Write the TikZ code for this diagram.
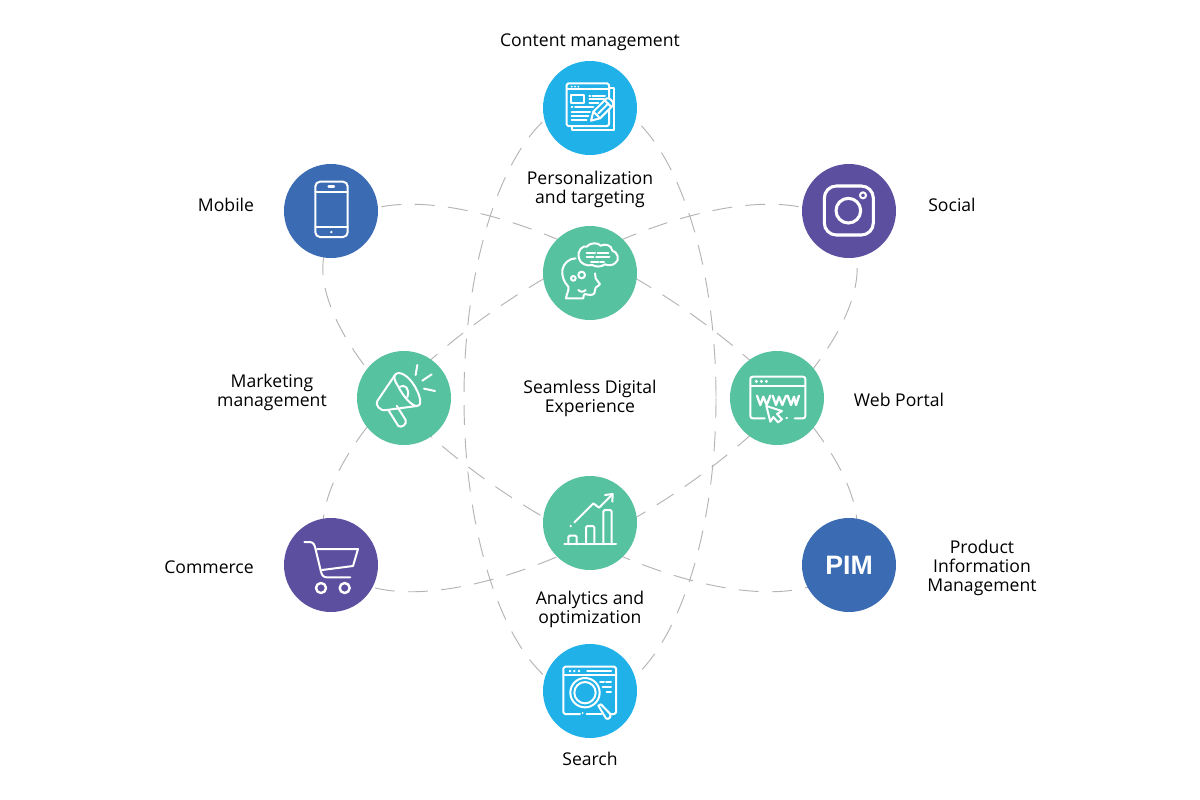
\documentclass[tikz,border=0pt]{standalone}
\usepackage{fontspec}
\setmainfont{Open Sans}
\newfontfamily\pimfont{Liberation Sans}
\definecolor{ccyan}{HTML}{1FB1E8}
\definecolor{cgreen}{HTML}{57C2A0}
\definecolor{cblue}{HTML}{3B6BB3}
\definecolor{cpurple}{HTML}{5D4FA0}
\definecolor{cdash}{HTML}{B4B4B4}
\tikzset{
  disc/.style={circle,draw=none,minimum size=70.5pt,inner sep=0pt},
  orbit/.style={draw=cdash,line width=0.7pt,dash pattern=on 15pt off 10pt},
  lab/.style={align=center,font=\fontsize{13.2pt}{14.25pt}\selectfont,text=black,inner sep=0pt},
  ic/.style={draw=white,line width=1.5pt,line cap=round,line join=round},
  icthick/.style={ic,line width=2.3pt},
  zoomed/.style={x=0.25pt,y=-0.25pt}
}
\begin{document}
\begin{tikzpicture}[x=0.75pt,y=-0.75pt]
\path[use as bounding box,fill=white] (0,0) rectangle (1200,800);
% orbits
\draw[orbit] (590,398) ellipse [x radius=126,y radius=298];
\draw[orbit,rotate around={-32:(590,398)}] (590,398) ellipse [x radius=305,y radius=126];
\draw[orbit,rotate around={32:(590,398)}] (590,398) ellipse [x radius=305,y radius=126];
% discs
\node[disc,fill=ccyan] (content) at (590,108) {};
\node[disc,fill=cgreen] (person) at (590,273) {};
\node[disc,fill=cgreen] (market) at (404,398) {};
\node[disc,fill=cgreen] (web) at (777,398) {};
\node[disc,fill=cgreen] (analytics) at (590,523) {};
\node[disc,fill=ccyan] (search) at (590,691) {};
\node[disc,fill=cblue] (mobile) at (331,211) {};
\node[disc,fill=cpurple] (social) at (849,211) {};
\node[disc,fill=cpurple] (commerce) at (331,565) {};
\node[disc,fill=cblue,text=white] (pim) at (849,565) {\pimfont\bfseries\fontsize{20pt}{20pt}\selectfont PIM};
% labels
\node[lab] (tcontent) at (590,42) {Content management};
\node[lab] (tperson) at (590,189) {Personalization\\and targeting};
\node[lab] (tmobile) at (226,205) {Mobile};
\node[lab] (tsocial) at (952,205) {Social};
\node[lab] (tmarket) at (272,392) {Marketing\\management};
\node[lab] (tcentre) at (590,398) {Seamless Digital\\Experience};
\node[lab] (tweb) at (899,400) {Web Portal};
\node[lab] (tcommerce) at (209,567) {Commerce};
\node[lab] (tpim) at (982,568) {Product\\Information\\Management};
\node[lab] (tanalytics) at (590,609) {Analytics and\\optimization};
\node[lab] (tsearch) at (590,759) {Search};
% content icon
\begin{scope}[shift={(530,50)},zoomed]
\draw[ic] (237,113)--(252,113)--(252,240)--(125,240)--(125,228);
\draw[ic,rounded corners=1.2pt] (110,100) rectangle (237,228);
\draw[ic] (110,118)--(237,118);
\fill[white] (125,110) circle (3) (135,110) circle (3) (145,110) circle (3);
\draw[ic] (124,135) rectangle (163,158);
\draw[ic] (178,137)--(181,137) (188,137)--(225,137) (178,148)--(222,148) (178,158)--(205,158);
\draw[ic] (125,172)--(127,172) (135,172)--(190,172) (125,185)--(180,185) (125,197)--(175,197) (125,210)--(170,210);
\draw[ic,fill=ccyan] (183,212)--(190,185)--(230,145) .. controls (238,142) and (252,155) .. (250,165)--(210,205)--cycle;
\draw[ic] (225,152)--(243,170) (205,190)--(235,160) (190,185)--(210,205);
\end{scope}
% head icon
\begin{scope}[shift={(530,215)},zoomed]
\draw[ic] (108,250) .. controls (110,235) and (118,225) .. (115,215) .. controls (100,200) and (95,180) .. (97,165) .. controls (100,145) and (118,130) .. (137,130);
\draw[ic] (108,250)--(160,250) .. controls (160,243) and (161,238) .. (165,237) .. controls (175,240) and (188,242) .. (193,235) .. controls (197,228) and (193,222) .. (197,218) -- (210,208) -- (197,190) -- (195,175);
\draw[ic] (145,225) .. controls (152,232) and (160,232) .. (167,225);
\draw[ic] (130,190) circle (7) (155,180) circle (10);
\draw[ic] (147,130) .. controls (140,105) and (160,90) .. (170,95) .. controls (180,82) and (205,82) .. (212,92) .. controls (225,85) and (245,90) .. (247,107) .. controls (262,110) and (272,135) .. (255,145) .. controls (245,152) and (235,152) .. (225,148) .. controls (212,158) and (195,155) .. (187,150) .. controls (170,155) and (150,145) .. (147,130) -- cycle;
\draw[ic] (170,115)--(195,115) (203,115)--(235,115) (170,127)--(190,127) (198,127)--(238,127) (183,140)--(205,140) (210,140)--(222,140);
\end{scope}
% megaphone
\begin{scope}[shift={(345,340)},zoomed]
\draw[ic] (150,105) -- (97,183) .. controls (90,195) and (105,215) .. (125,210) -- (215,198);
\draw[ic] (150,105) .. controls (160,90) and (190,105) .. (210,140) .. controls (230,175) and (230,200) .. (215,198) .. controls (200,198) and (175,170) .. (160,140) .. controls (150,125) and (145,112) .. (150,105);
\draw[ic] (165,140) .. controls (180,132) and (195,145) .. (187,172);
\draw[ic] (130,210) -- (160,258) .. controls (170,265) and (187,252) .. (182,240) -- (155,197);
\draw[ic] (217,75)--(212,105) (260,103)--(232,122) (237,146)--(270,153);
\end{scope}
% web icon
\begin{scope}[shift={(718,340)},zoomed]
\draw[ic] (140,235)--(105,235) .. controls (99,235) and (97,233) .. (97,227) -- (97,118) .. controls (97,112) and (99,110) .. (105,110) -- (254,110) .. controls (260,110) and (262,112) .. (262,118) -- (262,227) .. controls (262,233) and (260,235) .. (254,235) -- (230,235);
\draw[ic] (205,235)--(207,235);
\draw[ic] (97,138)--(262,138);
\fill[white] (115,124) circle (5) (130,124) circle (5) (145,124) circle (5);
\draw[ic,line width=1.7pt] (117,167)--(127,195)--(136,170)--(146,195)--(157,167);
\draw[ic,line width=1.7pt] (164,167)--(174,195)--(183,170)--(193,195)--(204,167);
\draw[ic,line width=1.7pt] (209,167)--(219,195)--(228,170)--(234,195)--(243,167);
\draw[ic] (145,198)--(192,213)--(177,222)--(192,238)--(180,247)--(166,231)--(157,245)--cycle;
\end{scope}
% chart
\begin{scope}[shift={(530,465)},zoomed]
\draw[ic] (103,238)--(258,238);
\draw[ic,rounded corners=1pt] (115,238)--(115,212)--(140,212)--(140,238);
\draw[ic,rounded corners=1pt] (168,238)--(168,183)--(193,183)--(193,238);
\draw[ic,rounded corners=1pt] (220,238)--(220,135)--(245,135)--(245,238);
\draw[ic] (133,172)--(190,115)--(207,128)--(245,90);
\draw[ic] (225,90)--(248,87)--(247,110);
\fill[white] (122,183) circle (4);
\end{scope}
% search
\begin{scope}[shift={(530,635)},zoomed]
\draw[ic] (150,237)--(105,237)--(100,232)--(100,100)--(105,95)--(253,95)--(258,100)--(258,232)--(253,237)--(245,237);
\draw[ic] (170,237)--(215,237);
\fill[white] (158,234) circle (3);
\draw[ic] (100,120)--(258,120);
\fill[white] (120,108) circle (4) (133,108) circle (4) (147,108) circle (4);
\draw[ic,line width=2pt] (172,108)--(243,108);
\draw[ic] (210,142)--(222,142) (228,142)--(243,142) (218,157)--(243,157) (230,172)--(243,172);
\draw[ic,fill=ccyan] (165,173) circle (44);
\draw[ic] (165,173) circle (32);
\draw[ic,fill=ccyan] (205,212) -- (228,250) .. controls (235,256) and (246,245) .. (240,236) -- (213,208) -- cycle;
\end{scope}
% phone
\begin{scope}[shift={(272,155)},zoomed]
\draw[ic,rounded corners=3.5pt] (130,80) rectangle (227,246);
\draw[ic] (130,112)--(227,112) (130,215)--(227,215);
\draw[ic,line width=1.8pt] (170,95)--(186,95);
\fill[white] (178,231) circle (4);
\end{scope}
% instagram
\begin{scope}[shift={(790,155)},zoomed]
\draw[icthick,rounded corners=9pt] (103,93) rectangle (250,240);
\draw[icthick] (175,167) circle (37);
\draw[ic] (219,121) circle (9);
\end{scope}
% cart
\begin{scope}[shift={(272,505)},zoomed]
\draw[ic] (97,111)--(113,111) .. controls (124,111) and (128,120) .. (130,130) -- (147,200) .. controls (150,212) and (155,217) .. (165,217) -- (235,217);
\draw[ic] (135,132)--(258,132)--(243,183)--(150,195);
\draw[ic,line width=1.8pt] (147,249) circle (15) (218,249) circle (15);
\end{scope}
\end{tikzpicture}
\end{document}
